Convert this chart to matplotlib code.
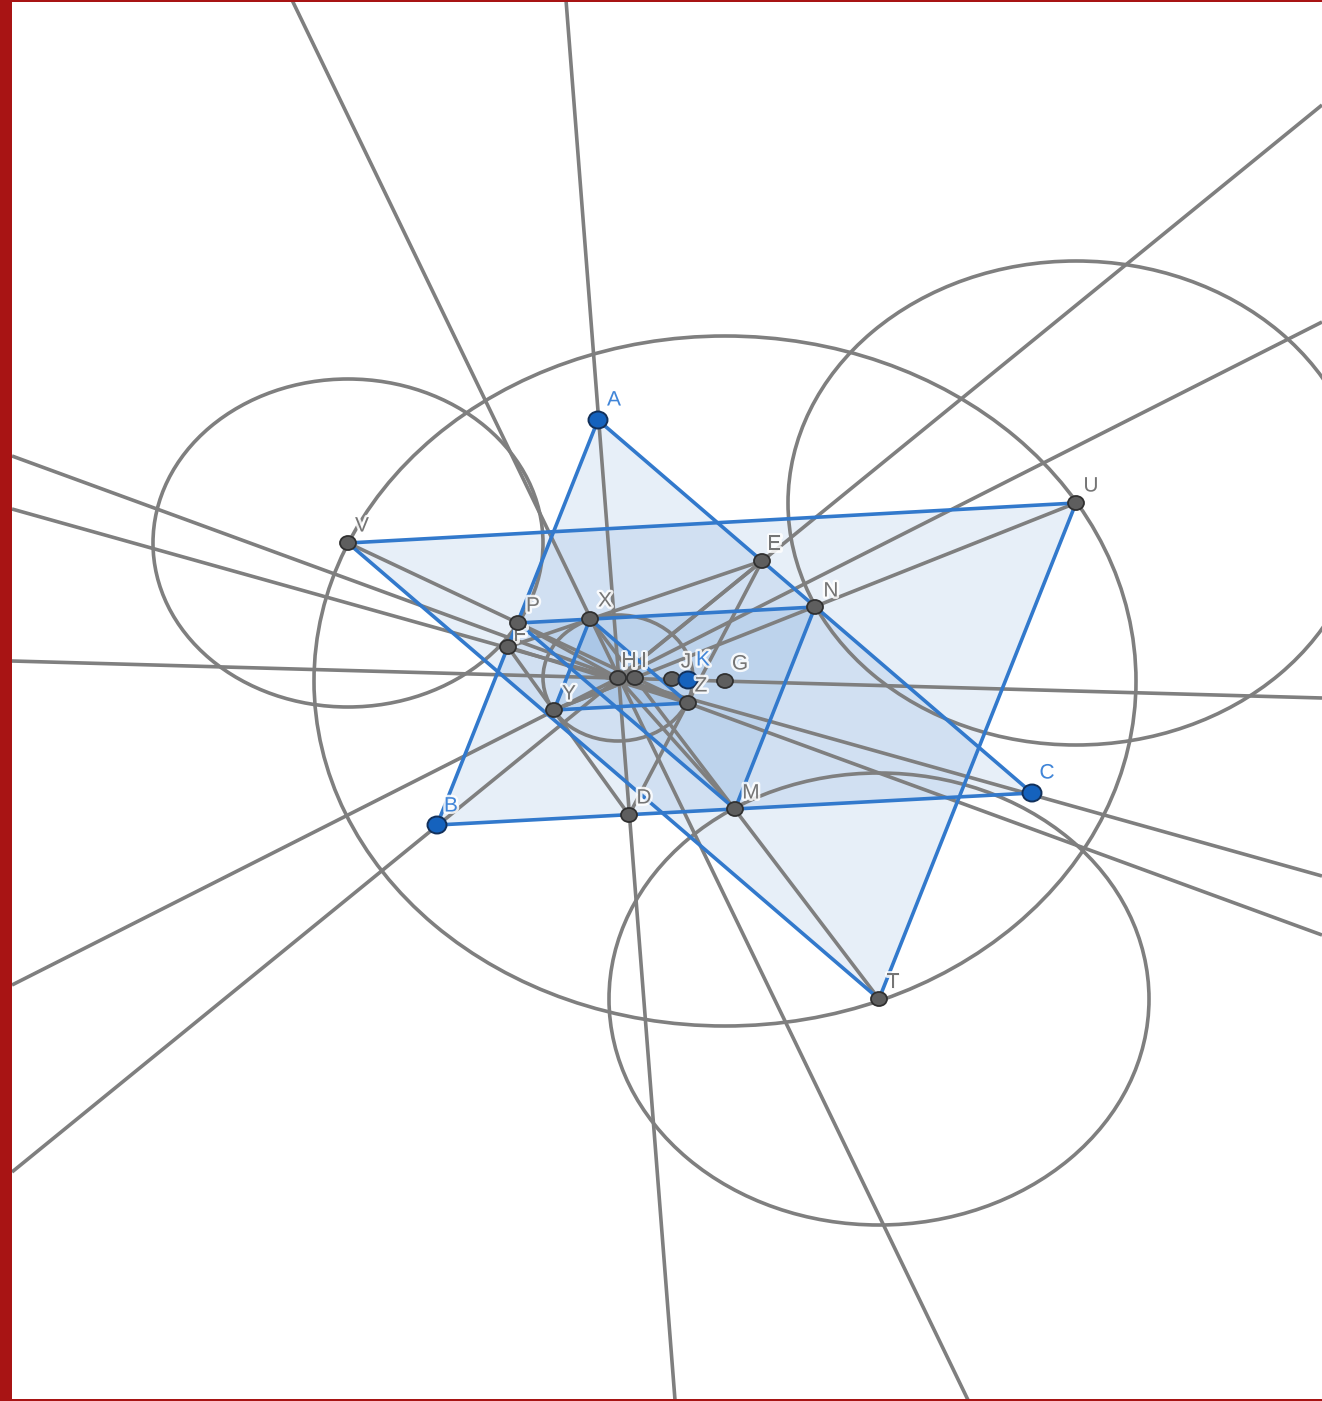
import matplotlib
matplotlib.use("Agg")
import matplotlib.pyplot as plt
from matplotlib.patches import Ellipse, Polygon
import matplotlib.patheffects as pe

W, H = 1322, 1401
plt.rcParams['font.family'] = ['Liberation Sans', 'DejaVu Sans']

# Named points (image pixel coordinates)
free_names = ["A", "B", "C", "K"]
free_x = [598, 437, 1032, 688]
free_y = [420, 825, 793, 680]
dep_names = ["D", "E", "F", "G", "H", "I", "J", "M", "N", "P", "T", "U", "V", "X", "Y", "Z"]
dep_x = [629, 762, 508, 725, 618, 635, 672, 735, 815, 518, 879, 1076, 348, 590, 554, 688]
dep_y = [815, 561, 647, 681, 678, 678, 679, 809, 607, 623, 999, 503, 543, 619, 710, 703]
pts = {n: (x, y) for n, x, y in zip(free_names + dep_names, free_x + dep_x, free_y + dep_y)}

# label offsets
label_off = {"A": (16, -20), "B": (14, -19), "C": (15, -20), "K": (15, -20), "D": (15, -17), "E": (12, -17),
             "F": (12, -12), "G": (15, -17), "H": (11, -17), "I": (9, -17), "J": (14, -17), "M": (16, -16),
             "N": (16, -16), "P": (15, -17), "T": (14, -17), "U": (15, -17), "V": (14, -17), "X": (15, -18),
             "Y": (15, -16), "Z": (13, -17)}

triangles = ["ABC", "UVT", "MNP", "XYZ"]

segments = ["EF", "ED", "EH", "UY", "TX", "VZ", "FD", "FZ", "YI", "HM", "PH"]

line_x0 = [566, 292, 12, 12, 12, 12, 12]
line_y0 = [0, 0, 456, 509, 661, 985, 1172]
line_x1 = [675, 968, 1322, 1322, 1322, 1322, 1322]
line_y1 = [1400, 1400, 935, 876, 698, 322, 105]

circle_cx = [725, 348, 1076, 879, 618]
circle_cy = [681, 543, 503, 999, 678]
circle_rx = [411, 195, 288, 270, 75]
circle_ry = [345, 164, 242, 226, 63]

GRAY = "#7f7f7f"
BLUE = "#3279cc"
LBL_GRAY = "#757575"
LBL_BLUE = "#4085d8"
LW = 2.6

fig = plt.figure(figsize=(W / 100, H / 100), dpi=100, facecolor="#a81414")
ax = fig.add_axes([12 / W, 2 / H, (W - 12) / W, (H - 4) / H])
ax.set_xlim(12, W)
ax.set_ylim(H - 2, 2)
ax.axis("off")
ax.add_patch(plt.Rectangle((12, 2), W, H, fc="white", ec="none", zorder=0))

for t in triangles:
    ax.add_patch(Polygon([pts[c] for c in t], closed=True, fc="#1565c0", alpha=0.10, ec="none", zorder=1))

for x0, y0, x1, y1 in zip(line_x0, line_y0, line_x1, line_y1):
    ax.plot([x0, x1], [y0, y1], color=GRAY, lw=LW, zorder=2, solid_capstyle="butt")
for s in segments:
    ax.plot([pts[s[0]][0], pts[s[1]][0]], [pts[s[0]][1], pts[s[1]][1]], color=GRAY, lw=LW, zorder=2)
for cx, cy, rx, ry in zip(circle_cx, circle_cy, circle_rx, circle_ry):
    ax.add_patch(Ellipse((cx, cy), 2 * rx, 2 * ry, fc="none", ec=GRAY, lw=LW, zorder=2))

for t in triangles:
    ax.add_patch(Polygon([pts[c] for c in t], closed=True, fc="none", ec=BLUE, lw=LW, zorder=3, joinstyle="round"))

halo = [pe.withStroke(linewidth=3.5, foreground="white", alpha=0.85)]
for n in free_names + dep_names:
    dx, dy = label_off[n]
    col = LBL_BLUE if n in free_names else LBL_GRAY
    # F's label sits underneath the neighbouring P marker and label
    ax.text(pts[n][0] + dx, pts[n][1] + dy, n, color=col, fontsize=15, ha="center", va="center",
            zorder=4.5 if n == "F" else 7, path_effects=halo)

for n in dep_names:
    ax.add_patch(Ellipse(pts[n], 16, 14, fc="#5e5e5e", ec="#303030", lw=1.3, zorder=5))
for n in free_names:
    ax.add_patch(Ellipse(pts[n], 19, 17, fc="#1562bd", ec="#12305a", lw=1.4, zorder=6))

fig.savefig("out.png", dpi=100, facecolor=fig.get_facecolor())
